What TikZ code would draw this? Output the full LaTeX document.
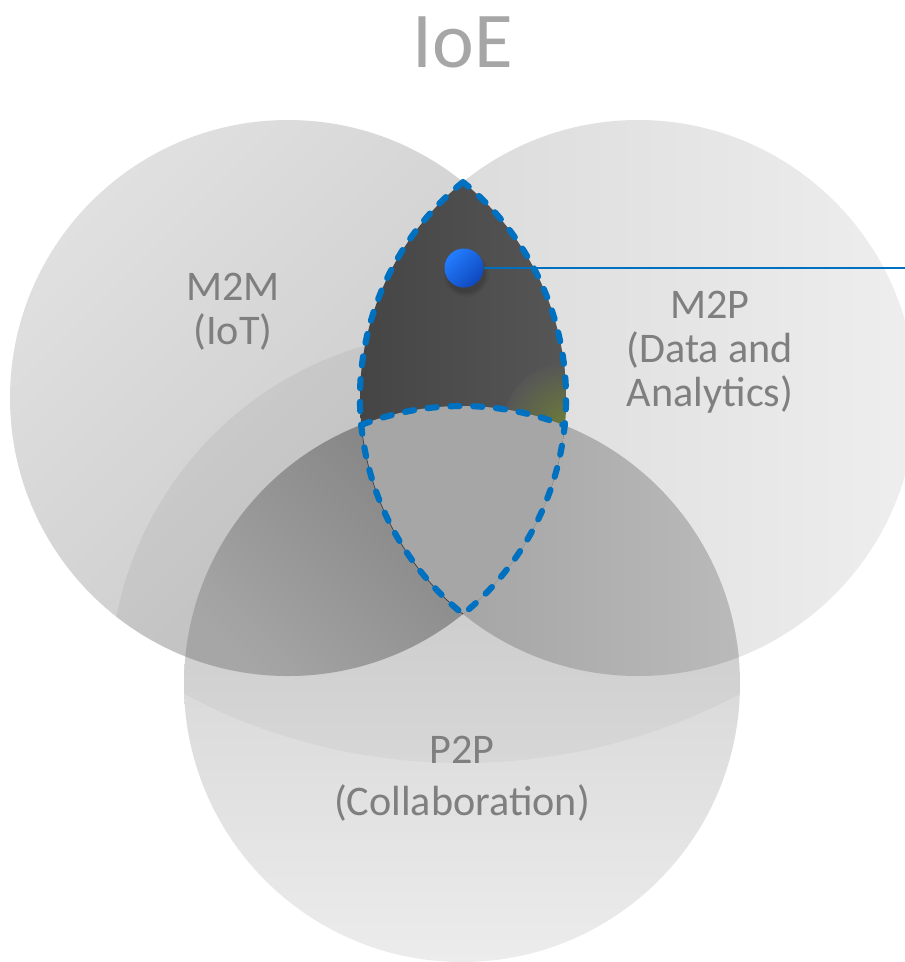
\documentclass[tikz,border=0pt]{standalone}
\usepackage{fontspec}
\setmainfont{Carlito}
\usepackage{xcolor}
\usepackage{tikz}
\usetikzlibrary{positioning}

\definecolor{titlegray}{RGB}{166,166,166}
\definecolor{labelgray}{RGB}{127,127,127}
\definecolor{m2mlight}{RGB}{224,224,224}
\definecolor{m2mdark}{RGB}{198,198,198}
\definecolor{m2pleft}{RGB}{216,216,216}
\definecolor{m2pright}{RGB}{238,238,238}
\definecolor{p2ptop}{RGB}{200,200,200}
\definecolor{p2pbottom}{RGB}{236,236,236}
\definecolor{lbdark}{RGB}{122,122,122}
\definecolor{lblight}{RGB}{166,166,166}
\definecolor{rbleft}{RGB}{158,158,158}
\definecolor{rbright}{RGB}{186,186,186}
\definecolor{lensdark}{RGB}{69,69,69}
\definecolor{lensgray}{RGB}{86,86,86}
\definecolor{triplegray}{RGB}{166,166,166}
\definecolor{olivetint}{RGB}{110,128,55}
\definecolor{dotlight}{RGB}{35,125,255}
\definecolor{dotdark}{RGB}{14,72,190}
\definecolor{lensblue}{RGB}{0,112,192}

\def\ringr{278}

\begin{document}
\begin{tikzpicture}[x=0.2mm, y=0.2mm,
    ringlabel/.style={align=center, text=labelgray, inner sep=0pt,
                      font=\fontsize{24}{25}\selectfont},
    titletext/.style={text=titlegray, inner sep=0pt,
                      font=\fontsize{45}{54}\selectfont},
    lensline/.style={draw=lensblue, line width=3.5pt, line cap=round,
                     line join=round, dash pattern=on 5.2pt off 7.8pt},
    hubdot/.style={circle, minimum size=7.8mm, inner sep=0pt,
                   top color=dotlight, bottom color=dotdark, shading angle=45},
    leader/.style={draw=lensblue, line width=1pt}
]
\useasboundingbox (0,0) rectangle (905,-962);

% circle centres and lens corners
\coordinate (mm)      at (288,-398);
\coordinate (mp)      at (638,-398);
\coordinate (pp)      at (462,-684);
\coordinate (tip)     at (463,-182);
\coordinate (cornerL) at (361.3,-424.9);
\coordinate (cornerR) at (564.6,-425.7);

% the three rings
\shade[top color=m2mlight, bottom color=m2mdark, shading angle=45]
      (mm) circle[radius=\ringr];
\shade[left color=m2pleft, right color=m2pright] (mp) circle[radius=\ringr];
\shade[top color=p2ptop, bottom color=p2pbottom] (pp) circle[radius=\ringr];

% soft shadows
\begin{scope}
  \clip (mm) circle[radius=\ringr];
  \fill[black, opacity=0.05] (pp) circle[radius=352];
\end{scope}
\begin{scope}
  \clip (pp) circle[radius=\ringr];
  \fill[black, opacity=0.035] (462,-170) circle[radius=593];
\end{scope}

% overlaps
\begin{scope}
  \clip (mm) circle[radius=\ringr];
  \clip (pp) circle[radius=\ringr];
  \shade[top color=lbdark, bottom color=lblight, shading angle=-45]
        (180,-400) rectangle (570,-700);
\end{scope}
\begin{scope}
  \clip (mp) circle[radius=\ringr];
  \clip (pp) circle[radius=\ringr];
  \shade[left color=rbleft, right color=rbright] (360,-400) rectangle (740,-700);
\end{scope}
\begin{scope}
  \clip (mm) circle[radius=\ringr];
  \clip (mp) circle[radius=\ringr];
  \shade[left color=lensdark, right color=lensgray] (360,-180) rectangle (570,-620);
  \shade[inner color=olivetint, outer color=lensgray] (570,-430) circle[radius=68];
  \clip (pp) circle[radius=\ringr];
  \fill[triplegray] (360,-400) rectangle (570,-620);
\end{scope}

% lens outline
\draw[black!75, line width=0.4pt] (cornerL) arc[start angle=185.55, end angle=231, radius=\ringr];
\draw[lensline] (tip) arc[start angle=129, end angle=231, radius=\ringr]
                      arc[start angle=-51, end angle=51, radius=\ringr] -- cycle;
\draw[lensline] (cornerL) arc[start angle=111.24, end angle=68.33, radius=\ringr];

% marker and leader
\foreach \s/\o in {23/0.04, 21/0.06, 19/0.08}
  \fill[black, opacity=\o] (466,-274) circle[radius=\s];
\node (hub) [hubdot] at (464,-268) {};
\coordinate (hubend) at (905,-268);
\draw[leader] (hub) -- (hubend);

% texts
\node (ioe) [titletext, anchor=base] at (463,-67) {IoE};
\node (m2m) [ringlabel] at (233,-312) {M2M\\(IoT)};
\node (m2p) [ringlabel] at (710,-352) {M2P\\(Data and\\Analytics)};
\node (p2p) [ringlabel, font=\fontsize{24}{29.5}\selectfont] at (462,-779)
      {P2P\\(Collaboration)};
\end{tikzpicture}
\end{document}
